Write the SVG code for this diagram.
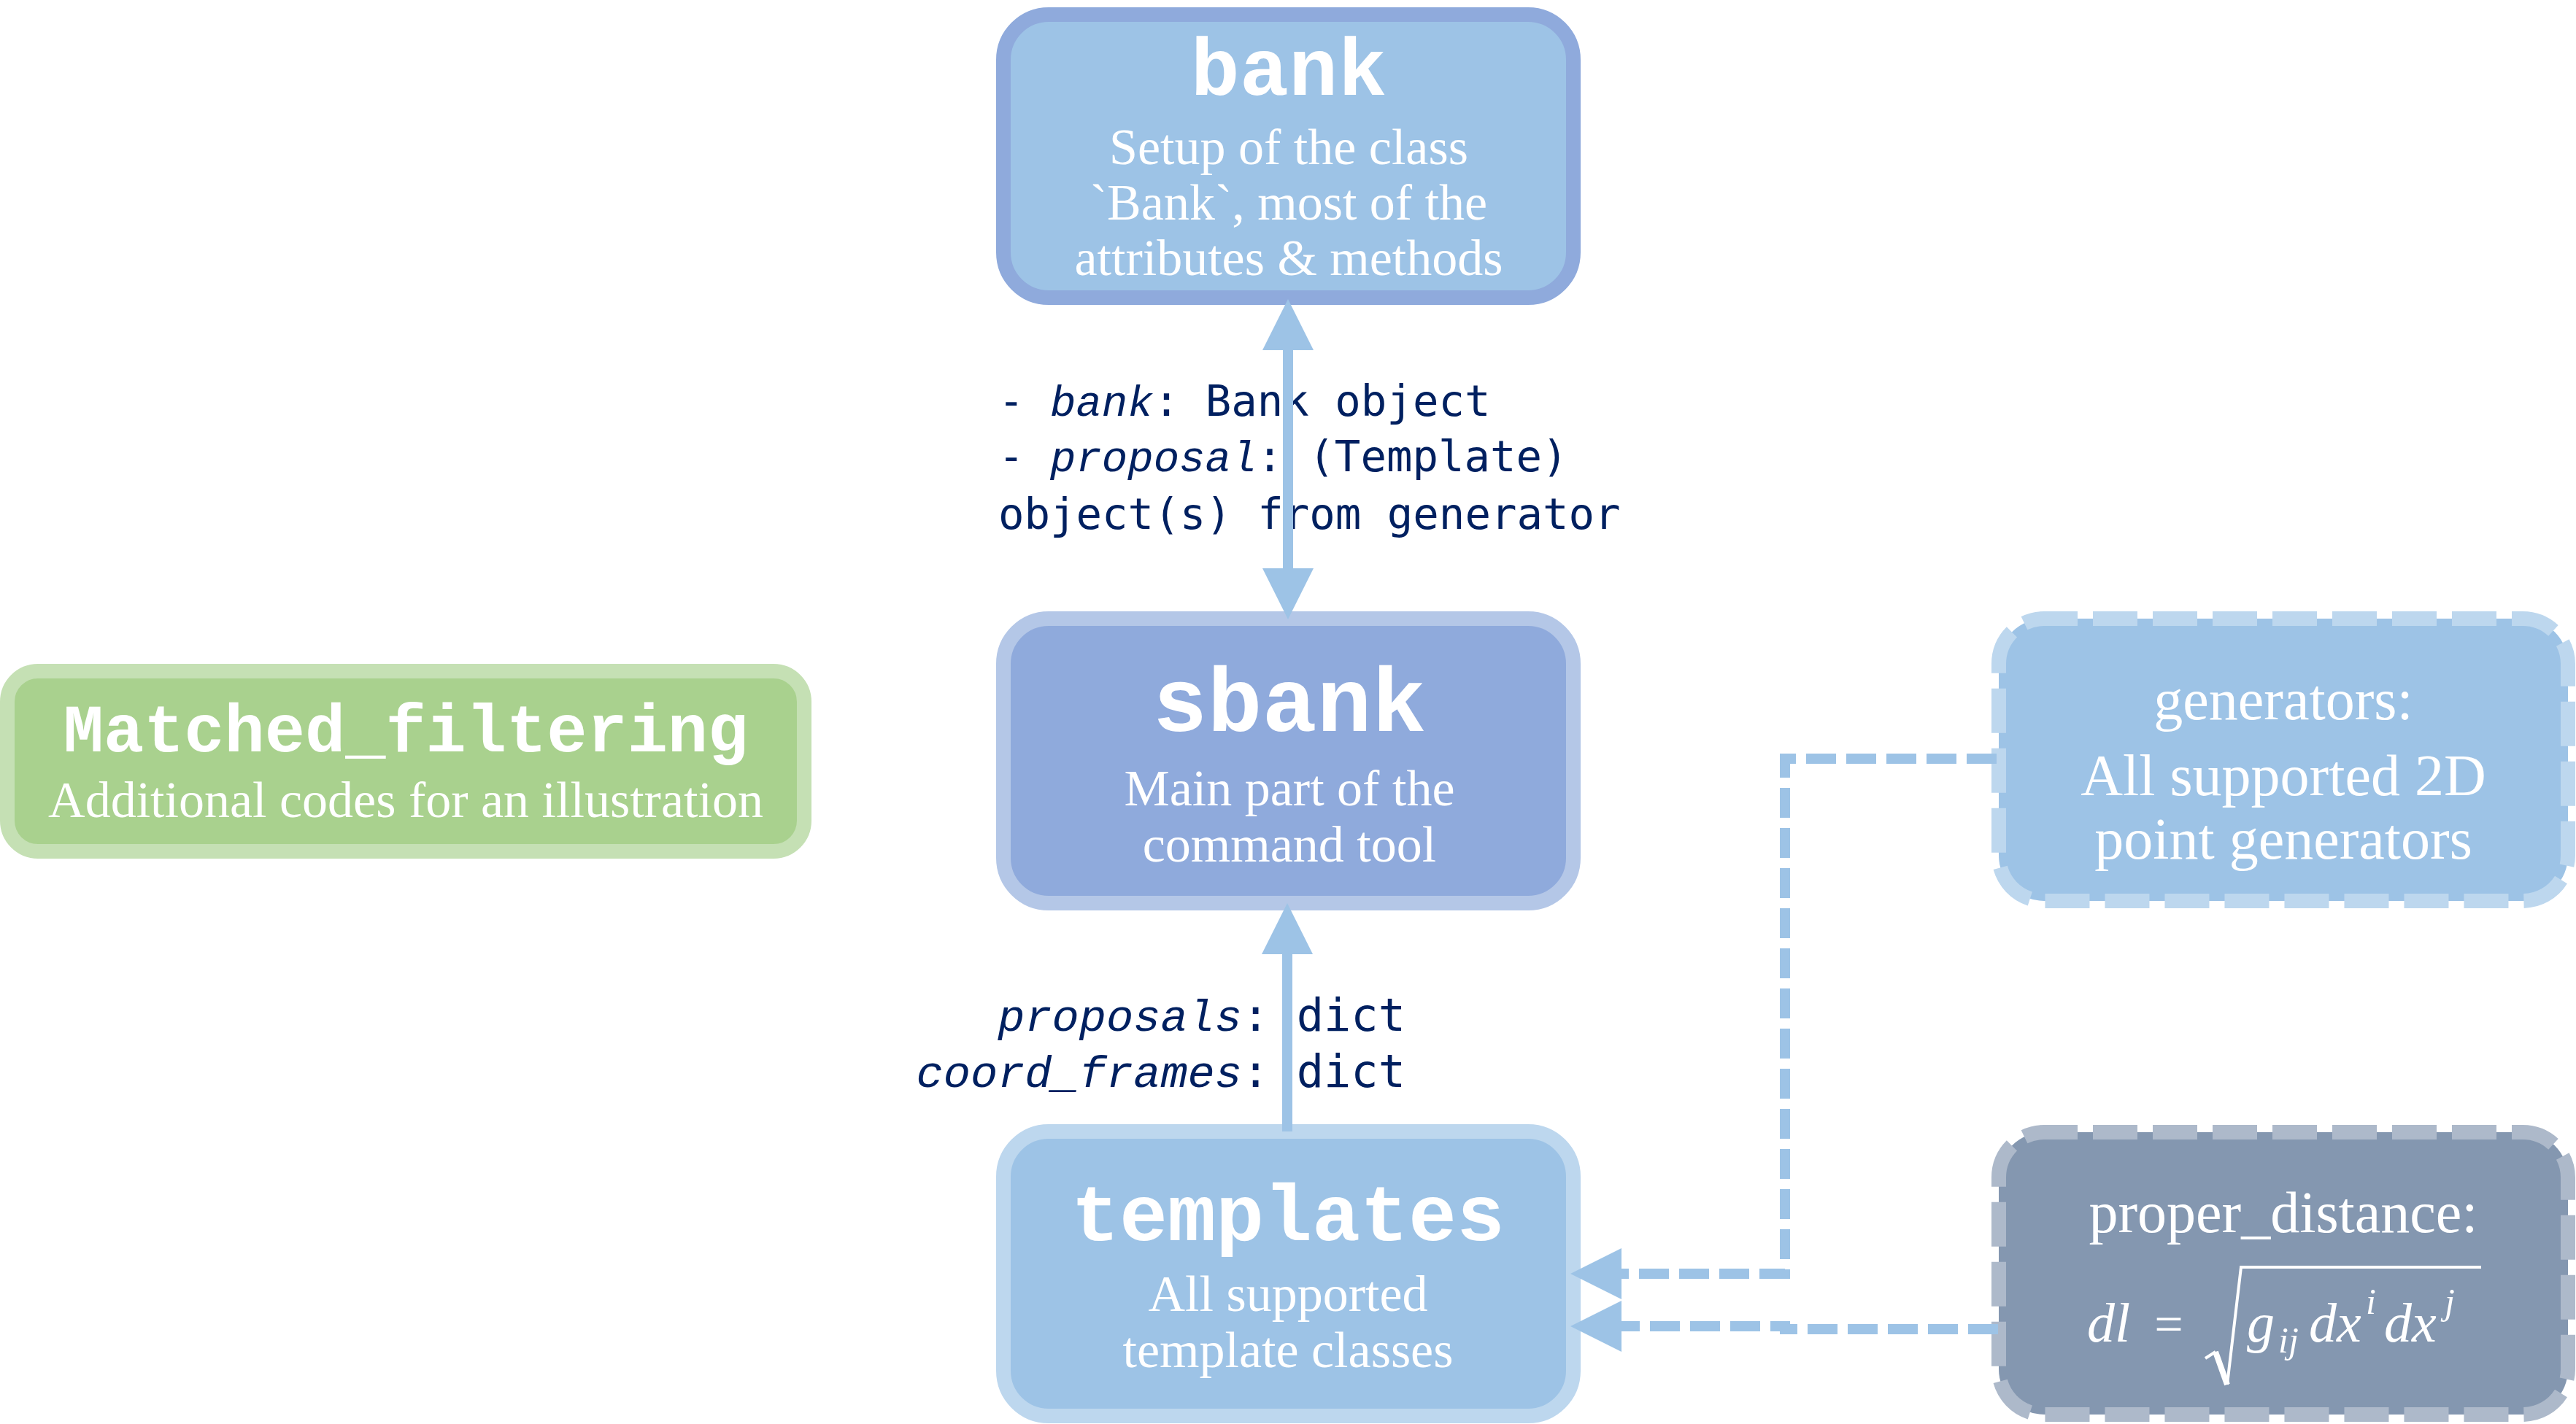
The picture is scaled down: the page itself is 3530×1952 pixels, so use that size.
<svg xmlns="http://www.w3.org/2000/svg" width="3530" height="1952" viewBox="0 0 3530 1952">
<style>
.box{stroke-width:20}
.title{font-family:"Liberation Mono","Courier New",monospace;font-weight:bold;fill:#ffffff;text-anchor:middle}
.body{font-family:"Liberation Serif","Times New Roman",serif;fill:#ffffff;text-anchor:middle;font-size:70px}
.big{font-size:80px}
.lbl{font-family:"DejaVu Sans Mono","Liberation Mono",monospace;fill:#002060}
.it{font-family:"Liberation Mono","Courier New",monospace;font-style:italic}
.math{font-family:"Liberation Serif","Times New Roman",serif;font-style:italic;fill:#ffffff}
.conn{fill:none;stroke:#9dc3e6;stroke-width:14}
.dashb{stroke-dasharray:61 21;stroke-dashoffset:15}
</style>
<defs>
<marker id="ah" viewBox="0 0 70 70" refX="0" refY="35" markerWidth="70" markerHeight="70" markerUnits="userSpaceOnUse" orient="auto-start-reverse">
<path d="M0,0 L70,35 L0,70 Z" fill="#9dc3e6" stroke="none"/>
</marker>
</defs>
<rect width="3530" height="1952" fill="#ffffff"/>

<g id="bank">
<rect class="box" x="1375" y="20" width="781" height="388" rx="62" ry="62" fill="#9dc3e6" stroke="#8faadc"/>
<text class="title" x="1766" y="130" font-size="112">bank</text>
<text class="body" x="1766" y="225">Setup of the class</text>
<text class="body" x="1766" y="301">`Bank`, most of the</text>
<text class="body" x="1766" y="377">attributes &amp; methods</text>
</g>

<g id="sbank">
<rect class="box" x="1375" y="848" width="781" height="390" rx="62" ry="62" fill="#8faadc" stroke="#b4c7e7"/>
<text class="title" x="1767" y="1002" font-size="125">sbank</text>
<text class="body" x="1767" y="1104">Main part of the</text>
<text class="body" x="1767" y="1181">command tool</text>
</g>

<g id="templates">
<rect class="box" x="1375" y="1551" width="781" height="390" rx="62" ry="62" fill="#9dc3e6" stroke="#bdd7ee"/>
<text class="title" x="1765" y="1700" font-size="110">templates</text>
<text class="body" x="1765" y="1797">All supported</text>
<text class="body" x="1765" y="1874">template classes</text>
</g>

<g id="matched_filtering">
<rect class="box" x="10" y="920" width="1092" height="247" rx="42" ry="42" fill="#a9d18e" stroke="#c5e0b4"/>
<text class="title" x="556" y="1030" font-size="92">Matched_filtering</text>
<text class="body" x="556" y="1120">Additional codes for an illustration</text>
</g>

<g id="generators">
<rect class="box dashb" x="2739" y="848" width="780" height="387" rx="62" ry="62" fill="#9dc3e6" stroke="#bdd7ee"/>
<text class="body big" x="3129" y="986">generators:</text>
<text class="body big" x="3129" y="1090">All supported 2D</text>
<text class="body big" x="3129" y="1177">point generators</text>
</g>

<g id="proper_distance">
<rect class="box dashb" x="2739" y="1552" width="780" height="387" rx="62" ry="62" fill="#8497b0" stroke="#adb9ca"/>
<text class="body big" x="3129" y="1689">proper_distance:</text>
<text class="math" y="1839" font-size="76"><tspan x="2860">dl</tspan></text>
<text class="body" x="2972" y="1839" font-size="80">=</text>
<path d="M3022,1862 L3036,1853" fill="none" stroke="#ffffff" stroke-width="4"/>
<path d="M3036,1853 L3052,1898" fill="none" stroke="#ffffff" stroke-width="8"/>
<path d="M3052,1898 L3071,1737 L3400,1737" fill="none" stroke="#ffffff" stroke-width="4"/>
<text class="math" y="1839" font-size="76"><tspan x="3079">g</tspan></text>
<text class="math" y="1854" font-size="50"><tspan x="3122">ij</tspan></text>
<text class="math" y="1839" font-size="76"><tspan x="3164">dx</tspan></text>
<text class="math" y="1801" font-size="50"><tspan x="3242">i</tspan></text>
<text class="math" y="1839" font-size="76"><tspan x="3267">dx</tspan></text>
<text class="math" y="1801" font-size="50"><tspan x="3350">j</tspan></text>
</g>

<g id="connectors">
<text class="lbl" x="1368" y="570" font-size="59">- <tspan class="it">bank</tspan>: Bank object</text>
<text class="lbl" x="1368" y="646" font-size="59">- <tspan class="it">proposal</tspan>: (Template)</text>
<text class="lbl" x="1368" y="725" font-size="59">object(s) from generator</text>
<text class="lbl" x="1926" y="1413" font-size="62" text-anchor="end"><tspan class="it">proposals</tspan>: dict</text>
<text class="lbl" x="1926" y="1490" font-size="62" text-anchor="end"><tspan class="it">coord_frames</tspan>: dict</text>
<path id="bank-sbank" class="conn" d="M1765,480 V779" marker-start="url(#ah)" marker-end="url(#ah)"/>
<path id="templates-sbank" class="conn" d="M1764,1551 V1308" marker-end="url(#ah)"/>
<path id="generators-templates" class="conn" d="M2739,1040 H2446 V1746 H2222" stroke-dasharray="41 14" stroke-dashoffset="52" marker-end="url(#ah)"/>
<path id="proper_distance-templates" class="conn" d="M2739,1822 H2446 V1818 H2222" stroke-dasharray="41 14" stroke-dashoffset="54" marker-end="url(#ah)"/>
</g>
</svg>
